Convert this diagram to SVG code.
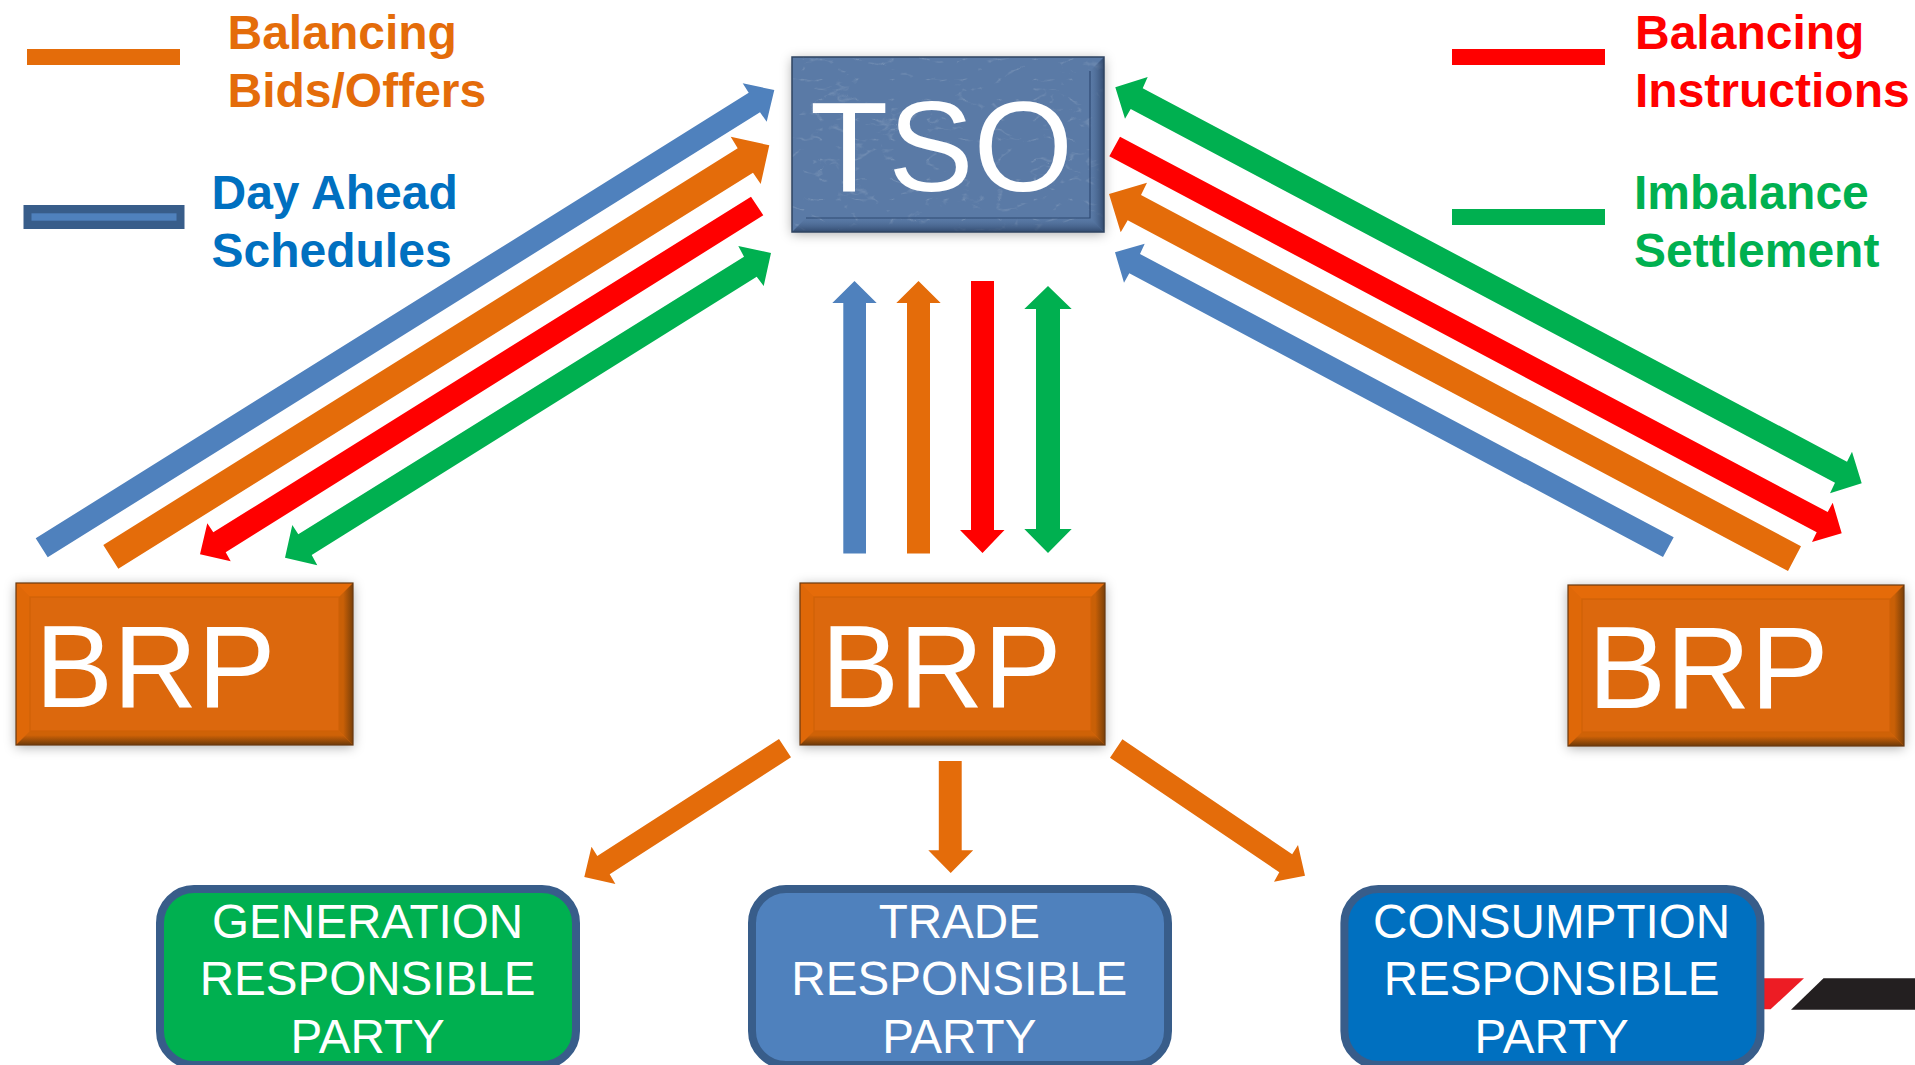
<svg xmlns="http://www.w3.org/2000/svg" width="1915" height="1065" viewBox="0 0 1915 1065">
<style>
text{font-family:"Liberation Sans",Arial,sans-serif}
.big{fill:#fff}
.leg{font-size:48px;font-weight:bold}
.party{font-size:47.6px;fill:#fff;text-anchor:middle}
.blue{fill:#4F81BD}.orange{fill:#E46C0A}.red{fill:#FF0000}.green{fill:#00B050}
.pill{stroke:#385D8A;stroke-width:8}
.brp{fill:#DC6708;filter:url(#shadow)}
.tp{fill:#E56B09}.lf{fill:#DF6808}.rt{fill:url(#brpR)}.bt{fill:url(#brpB)}
.inner{fill:none;stroke:#CF6207;stroke-width:1.2}
.edge{fill:none;stroke:#6B3A10;stroke-width:1.2}
</style>
<defs>
<filter id="shadow" x="-10%" y="-15%" width="120%" height="135%"><feDropShadow dx="0" dy="2" stdDeviation="6" flood-color="#000" flood-opacity="0.33"/></filter>
<filter id="grain" x="0" y="0" width="100%" height="100%">
<feTurbulence type="turbulence" baseFrequency="0.028 0.05" numOctaves="3" seed="11"/>
<feColorMatrix type="matrix" values="0 0 0 0 0.17  0 0 0 0 0.27  0 0 0 0 0.45  -7 0 0 0 0.95"/>
</filter>
<linearGradient id="brpR" x1="0" y1="0" x2="1" y2="0"><stop offset="0.3" stop-color="#C96007"/><stop offset="1" stop-color="#7A4008"/></linearGradient>
<linearGradient id="brpB" x1="0" y1="0" x2="0" y2="1"><stop offset="0.3" stop-color="#CF6207"/><stop offset="1" stop-color="#6E3A08"/></linearGradient>
<linearGradient id="tsoR" x1="0" y1="0" x2="1" y2="0"><stop offset="0" stop-color="#4A6A96" stop-opacity="0"/><stop offset="1" stop-color="#24395A" stop-opacity=".75"/></linearGradient>
<linearGradient id="tsoB" x1="0" y1="0" x2="0" y2="1"><stop offset="0" stop-color="#4A6A96" stop-opacity="0"/><stop offset="1" stop-color="#24395A" stop-opacity=".75"/></linearGradient>
</defs>
<rect width="1915" height="1065" fill="#fff"/>

<g id="logo-fragment">
<polygon points="1750,978.3 1804,978.3 1770.6,1009.3 1750,1009.3" fill="#ED1C24"/>
<polygon points="1823.5,978.3 1915,978.3 1915,1009.7 1791,1009.7" fill="#231F20"/>
</g>

<g id="legend-bids">
<rect x="27" y="49" width="153" height="16" class="orange"/>
<text class="leg orange"><tspan x="227.5" y="48.7">Balancing</tspan><tspan x="227.5" y="106.7">Bids/Offers</tspan></text>
</g>
<g id="legend-schedules">
<rect x="23.5" y="205" width="161" height="24" fill="#385D8A"/>
<rect x="31.5" y="213.3" width="145" height="7.4" class="blue"/>
<text class="leg" fill="#0070C0"><tspan x="211.5" y="209">Day Ahead</tspan><tspan x="211.5" y="266.7">Schedules</tspan></text>
</g>
<g id="legend-instructions">
<rect x="1452" y="49" width="153" height="16" class="red"/>
<text class="leg red"><tspan x="1635" y="48.7">Balancing</tspan><tspan x="1635" y="106.7">Instructions</tspan></text>
</g>
<g id="legend-settlement">
<rect x="1452" y="209" width="153" height="16" class="green"/>
<text class="leg green"><tspan x="1634" y="209">Imbalance</tspan><tspan x="1634" y="266.7">Settlement</tspan></text>
</g>

<g id="node-tso">
<rect x="792" y="57" width="312" height="175" fill="#5A7AA6" filter="url(#shadow)"/>
<rect x="792" y="57" width="312" height="175" filter="url(#grain)"/>
<polygon points="1104,57 1104,232 1090,218 1090,71" fill="url(#tsoR)"/>
<polygon points="792,232 1104,232 1090,218 806,218" fill="url(#tsoB)"/>
<polyline points="1090,71 1090,218 806,218" fill="none" stroke="#2F4A73" stroke-width="1.2"/>
<rect x="792" y="57" width="312" height="175" fill="none" stroke="#2F4462" stroke-width="1.5"/>
<text class="big" x="810" y="191" font-size="128">TSO</text>
</g>

<g id="node-brp-left">
<rect class="brp" x="16" y="583" width="337" height="162"/>
<polygon class="tp" points="16,583 353,583 339,597 30,597"/>
<polygon class="lf" points="16,583 30,597 30,731 16,745"/>
<polygon class="rt" points="353,583 353,745 339,731 339,597"/>
<polygon class="bt" points="16,745 353,745 339,731 30,731"/>
<rect class="inner" x="30" y="597" width="309" height="134"/>
<rect class="edge" x="16" y="583" width="337" height="162"/>
<text class="big" x="35" y="707" font-size="117">BRP</text>
</g>
<g id="node-brp-centre">
<rect class="brp" x="800" y="583" width="305" height="162"/>
<polygon class="tp" points="800,583 1105,583 1091,597 814,597"/>
<polygon class="lf" points="800,583 814,597 814,731 800,745"/>
<polygon class="rt" points="1105,583 1105,745 1091,731 1091,597"/>
<polygon class="bt" points="800,745 1105,745 1091,731 814,731"/>
<rect class="inner" x="814" y="597" width="277" height="134"/>
<rect class="edge" x="800" y="583" width="305" height="162"/>
<text class="big" x="821" y="707" font-size="117">BRP</text>
</g>
<g id="node-brp-right">
<rect class="brp" x="1568" y="585" width="336" height="161"/>
<polygon class="tp" points="1568,585 1904,585 1890,599 1582,599"/>
<polygon class="lf" points="1568,585 1582,599 1582,732 1568,746"/>
<polygon class="rt" points="1904,585 1904,746 1890,732 1890,599"/>
<polygon class="bt" points="1568,746 1904,746 1890,732 1582,732"/>
<rect class="inner" x="1582" y="599" width="308" height="133"/>
<rect class="edge" x="1568" y="585" width="336" height="161"/>
<text class="big" x="1588" y="708" font-size="117">BRP</text>
</g>

<g id="connectors">
<polygon class="blue" points="35.7,538.3 748.7,92.7 742.7,83.3 774.3,90 766.7,121.7 760,112.3 47.7,557.3"/>
<polygon class="orange" points="103.3,545 737.7,148.3 730.7,136.7 769.3,145.3 760.7,184 753,172.7 118.3,568.7"/>
<polygon class="red" points="751,196.7 213.3,532.3 207.3,523.3 200,554.3 230.7,561.3 225.7,552.3 763.3,215.3"/>
<polygon class="green" points="771,253 763.7,286 756.7,276.7 311.7,555 317.3,565.3 285,557.7 292.3,525 298.3,534.3 744,256.7 738.3,246"/>

<polygon class="blue" points="843.3,553.5 843.3,303 832.3,303 854.5,281 876.7,303 866,303 866,553.5"/>
<polygon class="orange" points="907,553.5 907,303 896.3,303 918.5,281 940.7,303 930,303 930,553.5"/>
<polygon class="red" points="971,281 971,530 960,530 982.5,553 1004.5,530 994,530 994,281"/>
<polygon class="green" points="1048,286 1071.7,309 1060,309 1060,529 1071.7,529 1048,553 1024.3,529 1036,529 1036,309 1024.3,309"/>

<polygon class="green" points="1115.3,87.3 1147.7,77 1142.7,88.3 1847,461.7 1852,451.7 1861.7,483.3 1830,493.3 1835,482.7 1130.7,109 1125,118.7"/>
<polygon class="red" points="1120,136.7 1827.7,512 1832.7,502.7 1841.7,533.3 1812,542 1816.7,532.3 1109.3,156.3"/>
<polygon class="orange" points="1109,194 1147,182.7 1141,195 1801,546.3 1788,571 1127.7,220.3 1120.7,232.3"/>
<polygon class="blue" points="1115,252.3 1144.7,243.7 1140,254 1673.7,537.3 1663,557 1129.3,273.3 1124,282.7"/>

<polygon class="orange" points="779,739 597.3,856 591.5,846.7 584.3,877 615.4,884 609.7,874.3 791,757.3"/>
<polygon class="orange" points="938.8,761 938.8,850.3 928.3,850.3 950.7,873 973.2,850.3 961.7,850.3 961.7,761"/>
<polygon class="orange" points="1122.4,739.3 1292.2,854.3 1298,845 1305,875.7 1274,881.7 1279.3,872.3 1110,757.7"/>
</g>

<g id="node-generation">
<rect class="pill green" x="160" y="889" width="416" height="176" rx="34"/>
<text class="party"><tspan x="367.6" y="937.5">GENERATION</tspan><tspan x="367.6" y="994.5">RESPONSIBLE</tspan><tspan x="367.6" y="1052.5">PARTY</tspan></text>
</g>
<g id="node-trade">
<rect class="pill blue" x="752" y="889" width="416" height="176" rx="34"/>
<text class="party"><tspan x="959.3" y="937.5">TRADE</tspan><tspan x="959.3" y="994.5">RESPONSIBLE</tspan><tspan x="959.3" y="1052.5">PARTY</tspan></text>
</g>
<g id="node-consumption">
<rect class="pill" fill="#0070C0" x="1344.4" y="889" width="416" height="176" rx="34"/>
<text class="party"><tspan x="1551.6" y="937.5">CONSUMPTION</tspan><tspan x="1551.6" y="994.5">RESPONSIBLE</tspan><tspan x="1551.6" y="1052.5">PARTY</tspan></text>
</g>
</svg>
